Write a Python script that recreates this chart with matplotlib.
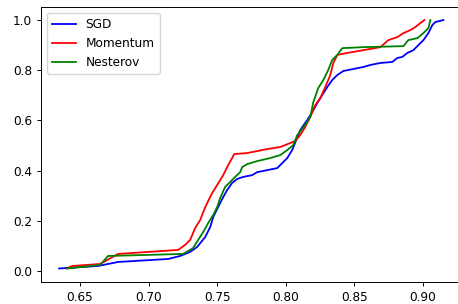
import matplotlib
matplotlib.use("Agg")
import matplotlib.pyplot as plt

sgd_x = [0.6347, 0.6631, 0.6777, 0.7142, 0.7230, 0.7303, 0.7354, 0.7412, 0.7449, 0.7471,
         0.7507, 0.7544, 0.7573, 0.7609, 0.7646, 0.7690, 0.7755, 0.7792, 0.7865, 0.7938,
         0.7974, 0.8011, 0.8047, 0.8106, 0.8157, 0.8193, 0.8230, 0.8266, 0.8303, 0.8339,
         0.8376, 0.8420, 0.8493, 0.8566, 0.8617, 0.8690, 0.8777, 0.8814, 0.8850, 0.8887,
         0.8931, 0.8967, 0.9004, 0.9040, 0.9069, 0.9091, 0.9150]
sgd_y = [0.01, 0.02, 0.036, 0.048, 0.060, 0.076, 0.096, 0.135, 0.175, 0.215,
         0.255, 0.295, 0.323, 0.351, 0.367, 0.375, 0.382, 0.394, 0.402, 0.410,
         0.430, 0.450, 0.482, 0.562, 0.602, 0.633, 0.669, 0.701, 0.733, 0.761,
         0.781, 0.797, 0.805, 0.813, 0.821, 0.829, 0.833, 0.849, 0.853, 0.869,
         0.880, 0.900, 0.920, 0.948, 0.980, 0.992, 1.0]

mom_x = [0.6405, 0.6442, 0.6646, 0.6777, 0.7215, 0.7266, 0.7303, 0.7339, 0.7376, 0.7398,
         0.7427, 0.7464, 0.7500, 0.7544, 0.7580, 0.7609, 0.7624, 0.7719, 0.7865, 0.7960,
         0.8033, 0.8069, 0.8106, 0.8142, 0.8179, 0.8215, 0.8252, 0.8288, 0.8325, 0.8347,
         0.8376, 0.8449, 0.8566, 0.8690, 0.8748, 0.8814, 0.8858, 0.8909, 0.8945, 0.8982,
         0.9011]
mom_y = [0.01, 0.02, 0.028, 0.068, 0.084, 0.104, 0.124, 0.171, 0.203, 0.235,
         0.271, 0.311, 0.343, 0.382, 0.422, 0.450, 0.466, 0.470, 0.486, 0.494,
         0.510, 0.518, 0.542, 0.574, 0.614, 0.661, 0.689, 0.733, 0.781, 0.829,
         0.861, 0.869, 0.880, 0.892, 0.920, 0.932, 0.948, 0.960, 0.972, 0.988,
         1.0]

nes_x = [0.6405, 0.6646, 0.6704, 0.7252, 0.7325, 0.7361, 0.7398, 0.7434, 0.7471, 0.7500,
         0.7522, 0.7558, 0.7595, 0.7631, 0.7668, 0.7682, 0.7719, 0.7792, 0.7887, 0.7960,
         0.8011, 0.8055, 0.8084, 0.8142, 0.8179, 0.8201, 0.8237, 0.8274, 0.8310, 0.8339,
         0.8376, 0.8412, 0.8566, 0.8858, 0.8894, 0.8960, 0.9004, 0.9040, 0.9055]
nes_y = [0.01, 0.024, 0.060, 0.068, 0.092, 0.124, 0.155, 0.191, 0.223, 0.255,
         0.291, 0.335, 0.355, 0.375, 0.394, 0.414, 0.426, 0.438, 0.450, 0.462,
         0.482, 0.502, 0.542, 0.582, 0.614, 0.673, 0.729, 0.761, 0.801, 0.841,
         0.861, 0.888, 0.892, 0.896, 0.920, 0.928, 0.948, 0.968, 1.0]

labels = ["SGD", "Momentum", "Nesterov"]
colors = ["blue", "red", "green"]

fs = 8.7
plt.rcParams["font.size"] = fs

fig = plt.figure(figsize=(4.58, 3.04), dpi=100)
W, H = 458, 304
ax = fig.add_axes([41 / W, (H - 282) / H, (464 - 41) / W, (282 - 7) / H])

for xs, ys, lab, c in zip([sgd_x, mom_x, nes_x], [sgd_y, mom_y, nes_y], labels, colors):
    ax.plot(xs, ys, color=c, label=lab, linewidth=1.3)

ax.set_xlim(0.6215, 0.930)
ax.set_ylim(-0.0438, 1.052)
ax.set_xticks([0.65, 0.70, 0.75, 0.80, 0.85, 0.90])
ax.set_yticks([0.0, 0.2, 0.4, 0.6, 0.8, 1.0])
ax.tick_params(labelsize=fs, length=3.0, width=0.7)
for s in ax.spines.values():
    s.set_linewidth(0.7)
ax.legend(loc="upper left", fontsize=fs)

fig.savefig("out.png", dpi=100)
